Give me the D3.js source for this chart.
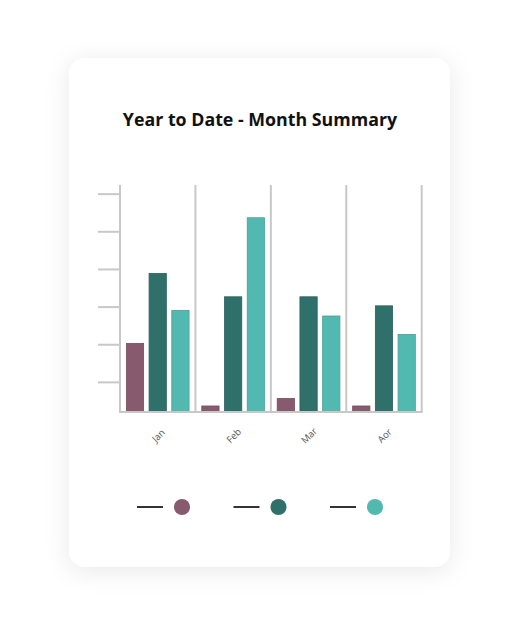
<!DOCTYPE html>
<meta charset="utf-8">
<style>
body { margin: 0; background: #fff; }
.tick-label { font: 9.5px "Open Sans", sans-serif; fill: #555; }
.title { font: bold 17.8px "Open Sans", sans-serif; fill: #111; }
</style>
<svg width="520" height="625"></svg>
<script src="https://cdn.jsdelivr.net/npm/d3@7"></script>
<script>

var months = ["Jan", "Feb", "Mar", "Aor"];
var seriesNames = ["A", "B", "C"];
var seriesA = [18.2, 1.6, 3.6, 1.6];
var seriesB = [36.8, 30.6, 30.6, 28.2];
var seriesC = [27.0, 51.6, 25.5, 20.6];
var yTicks = [8, 18, 28, 38, 48, 58];
var colors = ["#875a6d", "#30706a", "#52b9b1"];

var svg = d3.select("svg");

// soft shadow for the card
var defs = svg.append("defs");
var f = defs.append("filter").attr("id", "shadow")
    .attr("x", "-30%").attr("y", "-30%").attr("width", "160%").attr("height", "160%");
f.append("feDropShadow").attr("dx", 0).attr("dy", 4).attr("stdDeviation", 12)
    .attr("flood-color", "#000").attr("flood-opacity", 0.09);

svg.append("rect")
    .attr("x", 69).attr("y", 58).attr("width", 381).attr("height", 509)
    .attr("rx", 16).attr("fill", "#fff")
    .attr("filter", "url(#shadow)");

svg.append("text")
    .attr("class", "title")
    .attr("x", 260).attr("y", 126)
    .attr("text-anchor", "middle")
    .text("Year to Date - Month Summary");

var margin = {left: 120, top: 185, right: 421.7, bottom: 412};

var x0 = d3.scaleBand().domain(months).range([margin.left, margin.right]).padding(0);
var x1 = d3.scaleBand().domain(seriesNames).range([0, x0.bandwidth()])
    .paddingInner(0.24).paddingOuter(0.28);
var y = d3.scaleLinear().domain([0, 60.3]).range([margin.bottom, margin.top]);
var color = d3.scaleOrdinal().domain(seriesNames).range(colors);

var data = months.map(function(m, i) {
  return {month: m, values: [seriesA[i], seriesB[i], seriesC[i]]};
});

var g = svg.append("g");

// y axis with ticks
var yAxis = g.append("g")
    .attr("transform", "translate(" + margin.left + ",0)")
    .call(d3.axisLeft(y).tickValues(yTicks).tickSize(22).tickFormat(""));
yAxis.select(".domain").remove();
yAxis.selectAll(".tick line").attr("stroke", "#c8c8c8").attr("stroke-width", 2);

// vertical axis and band separators
g.selectAll(".sep")
    .data([months[0]].concat(months))
    .enter().append("line")
    .attr("x1", function(d, i) { return i === 0 ? x0(d) : x0(d) + x0.bandwidth(); })
    .attr("x2", function(d, i) { return i === 0 ? x0(d) : x0(d) + x0.bandwidth(); })
    .attr("y1", margin.top)
    .attr("y2", margin.bottom)
    .attr("stroke", "#c8c8c8")
    .attr("stroke-width", 2);

// bars
var groups = g.selectAll(".month")
    .data(data)
    .enter().append("g")
    .attr("transform", function(d) { return "translate(" + x0(d.month) + ",0)"; });

groups.selectAll("rect")
    .data(function(d) { return d.values.map(function(v, i) { return {key: seriesNames[i], value: v}; }); })
    .enter().append("rect")
    .attr("x", function(d) { return x1(d.key); })
    .attr("y", function(d) { return y(d.value); })
    .attr("width", x1.bandwidth())
    .attr("height", function(d) { return y(0) - y(d.value); })
    .attr("fill", function(d) { return color(d.key); })
    .attr("stroke", function(d) { return d3.color(color(d.key)).darker(0.4); })
    .attr("stroke-width", 0.8);

// x axis baseline
g.append("line")
    .attr("x1", margin.left - 1).attr("x2", margin.right + 1)
    .attr("y1", margin.bottom).attr("y2", margin.bottom)
    .attr("stroke", "#c8c8c8").attr("stroke-width", 2);

// x labels rotated
g.selectAll(".tick-label")
    .data(months)
    .enter().append("text")
    .attr("class", "tick-label")
    .attr("text-anchor", "middle")
    .attr("transform", function(d) {
      return "translate(" + (x0(d) + x0.bandwidth() / 2 + 3) + "," + 438 + ") rotate(-45)";
    })
    .text(function(d) { return d; });

// legend
var legend = svg.append("g").selectAll("g")
    .data(seriesNames)
    .enter().append("g")
    .attr("transform", function(d, i) { return "translate(" + (137 + i * 96.5) + ",507)"; });

legend.append("line")
    .attr("x1", 0).attr("x2", 26).attr("y1", 0).attr("y2", 0)
    .attr("stroke", "#333").attr("stroke-width", 2);

legend.append("circle")
    .attr("cx", 45).attr("cy", 0).attr("r", 8)
    .attr("fill", function(d) { return color(d); });

</script>
